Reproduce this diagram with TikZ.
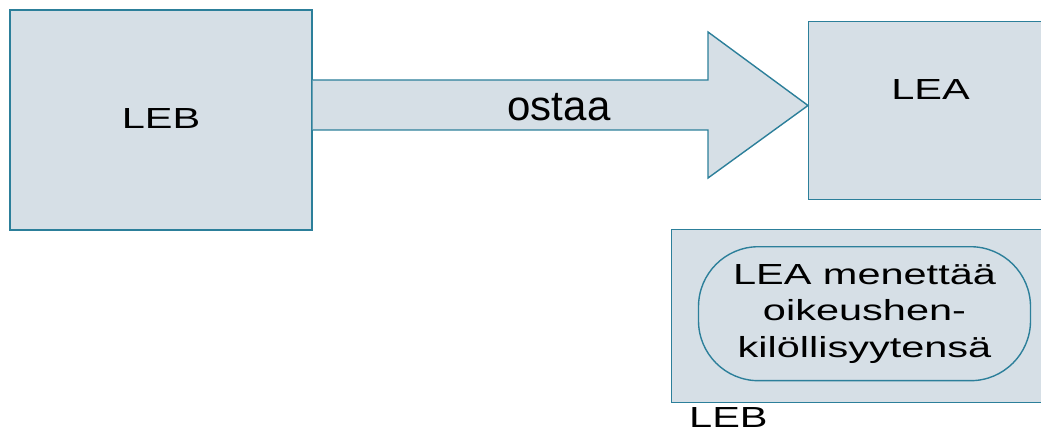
\documentclass[tikz,border=0pt]{standalone}
\usepackage{fontspec}
\setmainfont{Liberation Sans}
\usetikzlibrary{positioning}
\definecolor{boxfill}{HTML}{D6DFE6}
\definecolor{boxline}{HTML}{2C7F9A}

\begin{document}
\begin{tikzpicture}[x=1pt,y=-1pt,
  box node/.style={rectangle,draw=boxline,fill=boxfill,line width=1.4pt,inner sep=0pt},
  text node/.style={inner sep=0pt,font=\fontsize{41.5}{51.9}\selectfont,
    yscale=0.7,transform shape},
  bubble node/.style={text node,draw=boxline,line width=1.4pt,rounded corners=60pt,
    minimum width=332pt,minimum height=191.4pt,align=center}]

  \useasboundingbox (0,0) rectangle (1041,430);

  % the three boxes, the right two run past the edge
  \node[box node,minimum width=302pt,minimum height=220pt] (leb) at (161,120) {};
  \node[box node,minimum width=250pt,minimum height=178pt,anchor=north west] (lea) at (808,21) {};
  \node[box node,minimum width=390pt,minimum height=173pt,anchor=north west] (owner) at (671,229) {};

  % block arrow from LEB to LEA
  \coordinate (tip) at (lea.west |- 0,105.5);
  \draw[draw=boxline,fill=boxfill,line width=1.4pt,line join=miter]
    (leb.east |- 0,80) -- (708,80) -- (708,32) -- (tip)
    -- (708,178) -- (708,130) -- (leb.east |- 0,130);

  \node[text node] (leb label) at (161,119) {LEB};
  \node[text node] (lea label) at (930.5,89.5) {LEA};
  \node[inner sep=0pt,anchor=base,font=\fontsize{42}{50}\selectfont] (buys) at (559,121) {ostaa};

  \node[bubble node] (loss) at (864.5,313.7)
    {LEA menettää\\oikeushen-\\kilöllisyytensä};
  \node[text node,anchor=base west] (owner label) at (689,427.5) {LEB};

\end{tikzpicture}
\end{document}
